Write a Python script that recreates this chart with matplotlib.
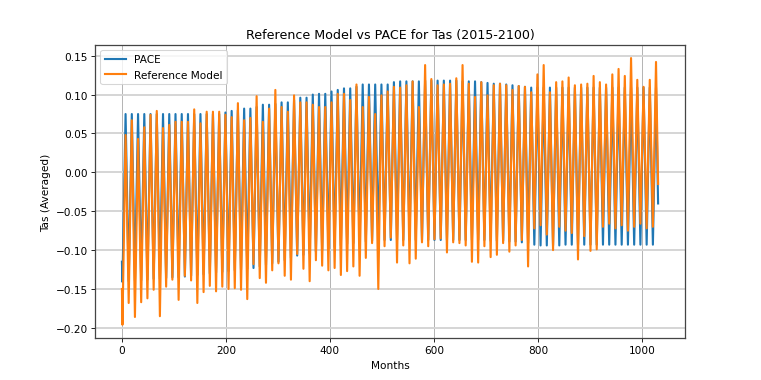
import matplotlib
matplotlib.use("Agg")
import matplotlib.pyplot as plt
import numpy as np

# yearly seasonal extremes (2015-2100, 86 years)
pace_peak = [0.075, 0.075, 0.075, 0.075, 0.075, 0.075, 0.075, 0.075,
             0.075, 0.075, 0.075, 0.075, 0.075, 0.075, 0.075, 0.075,
             0.077, 0.079, 0.080, 0.082, 0.082, 0.084, 0.087, 0.087,
             0.088, 0.090, 0.090, 0.093, 0.096, 0.096, 0.100, 0.101,
             0.101, 0.104, 0.106, 0.108, 0.108, 0.110, 0.113, 0.113,
             0.113, 0.113, 0.113, 0.116, 0.117, 0.117, 0.117, 0.117,
             0.118, 0.118, 0.118, 0.118, 0.118, 0.118, 0.117, 0.117,
             0.117, 0.116, 0.115, 0.114, 0.114, 0.113, 0.112, 0.111,
             0.110, 0.109, 0.109, 0.109, 0.109, 0.109, 0.109, 0.109,
             0.109, 0.109, 0.109, 0.109, 0.109, 0.109, 0.109, 0.109,
             0.109, 0.109, 0.109, 0.109, 0.109, 0.109]
pace_trough = [-0.141, -0.140, -0.139, -0.139, -0.138, -0.137, -0.137, -0.136,
               -0.135, -0.135, -0.134, -0.133, -0.132, -0.131, -0.130, -0.129,
               -0.128, -0.127, -0.126, -0.125, -0.124, -0.123, -0.121, -0.119,
               -0.117, -0.115, -0.113, -0.110, -0.107, -0.106, -0.104, -0.102,
               -0.100, -0.098, -0.096, -0.094, -0.092, -0.091, -0.090, -0.089,
               -0.088, -0.087, -0.087, -0.087, -0.087, -0.087, -0.087, -0.087,
               -0.087, -0.087, -0.087, -0.087, -0.087, -0.087, -0.087, -0.087,
               -0.087, -0.087, -0.087, -0.088, -0.088, -0.088, -0.089, -0.089,
               -0.090, -0.091, -0.093, -0.094, -0.094, -0.094, -0.094, -0.093,
               -0.093, -0.093, -0.093, -0.093, -0.093, -0.093, -0.093, -0.093,
               -0.093, -0.093, -0.093, -0.093, -0.093, -0.093]
ref_peak = [0.048, 0.067, 0.043, 0.058, 0.074, 0.079, 0.057, 0.061,
            0.065, 0.065, 0.065, 0.081, 0.063, 0.078, 0.078, 0.078,
            0.074, 0.071, 0.089, 0.067, 0.070, 0.098, 0.065, 0.082,
            0.106, 0.084, 0.078, 0.099, 0.090, 0.090, 0.087, 0.084,
            0.084, 0.090, 0.101, 0.101, 0.093, 0.113, 0.084, 0.097,
            0.075, 0.099, 0.104, 0.110, 0.109, 0.112, 0.117, 0.084,
            0.138, 0.120, 0.112, 0.113, 0.114, 0.121, 0.138, 0.114,
            0.097, 0.116, 0.099, 0.112, 0.114, 0.112, 0.106, 0.111,
            0.110, 0.103, 0.126, 0.138, 0.103, 0.116, 0.117, 0.122,
            0.112, 0.113, 0.114, 0.124, 0.116, 0.113, 0.126, 0.133,
            0.124, 0.147, 0.119, 0.110, 0.119, 0.142]
ref_trough = [-0.196, -0.168, -0.186, -0.167, -0.162, -0.151, -0.185, -0.147,
              -0.138, -0.164, -0.133, -0.139, -0.168, -0.154, -0.146, -0.153,
              -0.147, -0.150, -0.149, -0.151, -0.163, -0.118, -0.136, -0.142,
              -0.126, -0.117, -0.133, -0.138, -0.105, -0.124, -0.140, -0.113,
              -0.120, -0.126, -0.123, -0.132, -0.127, -0.121, -0.133, -0.110,
              -0.091, -0.150, -0.095, -0.084, -0.116, -0.094, -0.117, -0.111,
              -0.090, -0.095, -0.086, -0.085, -0.103, -0.090, -0.091, -0.094,
              -0.115, -0.116, -0.095, -0.109, -0.106, -0.091, -0.102, -0.094,
              -0.087, -0.121, -0.072, -0.068, -0.080, -0.100, -0.070, -0.075,
              -0.078, -0.112, -0.082, -0.101, -0.099, -0.070, -0.066, -0.072,
              -0.068, -0.075, -0.070, -0.066, -0.072, -0.070]
# first (month 0) and last (month 1031) values
pace_ends = [-0.115, -0.040]
ref_ends = [-0.150, -0.015]
n_months = 1032


def build(ends, trough, peak):
    years = np.arange(len(trough))
    x = np.column_stack([years * 12 + 1, years * 12 + 7]).ravel()
    y = np.column_stack([trough, peak]).ravel()
    x = np.concatenate([[0], x, [n_months - 1]])
    y = np.concatenate([[ends[0]], y, [ends[1]]])
    return x, y


def main():
    fig, ax = plt.subplots(figsize=(10, 381 / 76.1), dpi=76.1)
    px, py = build(pace_ends, pace_trough, pace_peak)
    rx, ry = build(ref_ends, ref_trough, ref_peak)
    ax.plot(px, py, color="#1f77b4", linewidth=2, label="PACE")
    ax.plot(rx, ry, color="#ff7f0e", linewidth=2, label="Reference Model")
    ax.grid(axis="x", color="#a8a8a8", linewidth=0.8)
    ax.grid(axis="y", color="#d4d4d4", linewidth=1.8)
    for s in ax.spines.values():
        s.set_color("#444444")
        s.set_linewidth(1.2)
    ax.set_yticks(np.arange(-0.20, 0.16, 0.05))
    ax.set_title("Reference Model vs PACE for Tas (2015-2100)")
    ax.set_xlabel("Months")
    ax.set_ylabel("Tas (Averaged)")
    ax.legend(loc="upper left")
    fig.savefig("out.png", dpi=76.1)


if __name__ == "__main__":
    main()
